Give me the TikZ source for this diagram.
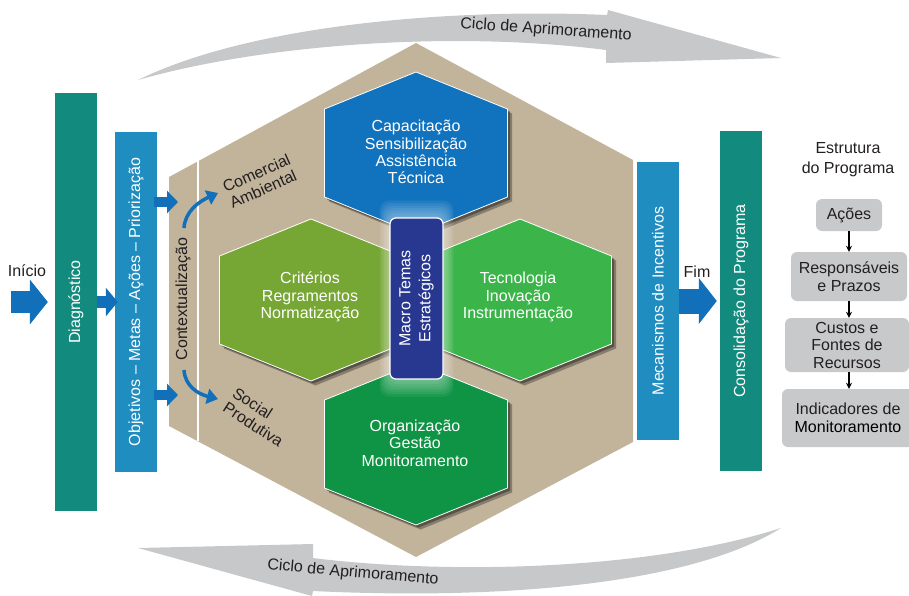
\documentclass[tikz,border=0pt]{standalone}
\usepackage{fontspec}
\setmainfont{Liberation Sans}
\usetikzlibrary{arrows.meta}

\definecolor{tanhex}{RGB}{194,180,155}
\definecolor{tealbar}{RGB}{18,138,126}
\definecolor{bluebar}{RGB}{31,141,192}
\definecolor{arrowblue}{RGB}{17,112,185}
\definecolor{hexblue}{RGB}{17,115,190}
\definecolor{hexolive}{RGB}{118,166,52}
\definecolor{hexgreen}{RGB}{59,181,74}
\definecolor{hexdark}{RGB}{14,148,68}
\definecolor{macroblue}{RGB}{40,56,145}
\definecolor{cyclegray}{RGB}{199,200,202}
\definecolor{boxgray}{RGB}{200,201,203}
\definecolor{darktext}{RGB}{35,31,32}

\newcommand{\hexat}[2]{(#1,#2-81) -- (#1+91.5,#2-44) -- (#1+91.5,#2+44) -- (#1,#2+81) -- (#1-91.5,#2+44) -- (#1-91.5,#2-44) -- cycle}

\begin{document}
\begin{tikzpicture}[x=1pt, y=-1pt, line join=round, >=Stealth, font=\fontsize{16}{17.3}\selectfont]
            \tikzset{bar/.style={rotate=90, minimum height=42, inner sep=0, text=white},
                     hextext/.style={align=center, text=white},
                     sidetext/.style={align=left, text=darktext},
                     blockarrow/.style={draw=arrowblue, line width=#1},
                     flowbox/.style={fill=boxgray, rounded corners=6, align=center, inner sep=0, text=darktext, font=\fontsize{16}{17.5}\selectfont},
                     flowarrow/.style={line width=1.1, -{Stealth[length=6, width=6]}}}
            \useasboundingbox (0,0) rectangle (909,595);
            % ciclo de aprimoramento
            \fill[cyclegray] (138,80) .. controls (250,25) and (450,8) .. (607,15) -- (608,10) -- (781,58) -- (606,63) -- (606,50) .. controls (450,30) and (260,45) .. (138,80) -- cycle;
            \fill[cyclegray] (781,528) .. controls (650,570) and (450,575) .. (313,558) -- (313,544) -- (138,548) -- (312,596) -- (313,591) .. controls (500,600) and (690,585) .. (781,528) -- cycle;
            \node[text=darktext, rotate=-4] (ciclotop) at (546,30) {Ciclo de Aprimoramento};
            \node[text=darktext, rotate=-5] (ciclobottom) at (353,573) {Ciclo de Aprimoramento};
            % hexagono maior
            \fill[tanhex] (416,43) -- (633,160) -- (633,442) -- (416,557) -- (169,426) -- (169,177) -- cycle;
            \draw[white, line width=2.5] (198,161.3) -- (198,441.4);
            \foreach \cx/\cy/\col in {416/153/hexblue, 311/300/hexolive, 520/300/hexgreen, 416/444/hexdark} {
                \fill[black, opacity=.3, shift={(4.5,4.5)}] \hexat{\cx}{\cy};
                \fill[black, opacity=.35, shift={(2.5,2.5)}] \hexat{\cx}{\cy};
                \filldraw[fill=\col, draw=white, line width=.8] \hexat{\cx}{\cy};
            }
            \node[hextext] (capacitacao) at (416,152) {Capacitação\\Sensibilização\\Assistência\\Técnica};
            \node[hextext] (criterios) at (310,297) {Critérios\\Regramentos\\Normatização};
            \node[hextext] (tecnologia) at (518,297) {Tecnologia\\Inovação\\Instrumentação};
            \node[hextext] (organizacao) at (415,443) {Organização\\Gestão\\Monitoramento};
            % macro temas
            \foreach \g in {1,...,7}
                \fill[white, opacity=.07, rounded corners=10] (390-1.5*\g,218-2.5*\g) rectangle (443+1.5*\g,379+2.5*\g);
            \node[rotate=90, fill=macroblue, draw=white, line width=1.2, rounded corners=6, minimum width=161, minimum height=53, inner sep=0, align=center, text=white, font=\fontsize{16}{20}\selectfont] (macro) at (416.5,298.5) {Macro Temas\\Estratégicos};
            % contexto
            \node[text=darktext, rotate=90] (contexto) at (183,299) {Contextualização};
            \node[sidetext, rotate=24] (comercial) at (260,181) {Comercial\\Ambiental};
            \node[sidetext, rotate=-33] (social) at (258,417) {Social\\Produtiva};
            \coordinate (ctxup) at (178,202);
            \coordinate (ctxdown) at (178,395);
            \draw[arrowblue, line width=3.5, -{Triangle[length=11, width=15]}] (184,228) .. controls (185,212) and (198,202) .. (218,193);
            \draw[arrowblue, line width=3.5, -{Triangle[length=11, width=15]}] (184,370) .. controls (185,386) and (198,394) .. (218,399);
            % barras
            \node[bar, fill=tealbar, minimum width=418] (diag) at (76,302) {Diagnóstico};
            \node[bar, fill=bluebar, minimum width=340] (obj) at (136,302) {Objetivos – Metas – Ações – Priorização};
            \node[bar, fill=bluebar, minimum width=278] (mec) at (658,301) {Mecanismos de Incentivos};
            \node[bar, fill=tealbar, minimum width=340] (cons) at (741,301) {Consolidação do Programa};
            \node[text=darktext] (inicio) at (27,271) {Início};
            \node[text=darktext] (fim) at (697,272) {Fim};
            \coordinate (inicioarrow) at (11,302);
            \draw[blockarrow=22, -{Triangle[length=18, width=44]}] (inicioarrow) -- ([xshift=-7pt]diag.north);
            \draw[blockarrow=12, -{Triangle[length=12, width=28]}] (diag.south) -- ([xshift=3pt]obj.north);
            \draw[blockarrow=10, -{Triangle[length=11, width=22]}] ([yshift=100pt,xshift=-3pt]obj.south) -- (ctxup);
            \draw[blockarrow=10, -{Triangle[length=11, width=22]}] ([yshift=-93pt,xshift=-3pt]obj.south) -- (ctxdown);
            \draw[blockarrow=25, -{Triangle[length=18, width=45]}] (mec.south) -- ([xshift=-3pt]cons.north);
            % estrutura do programa
            \node[text=darktext, align=center, font=\fontsize{16}{20}\selectfont] (estrutura) at (848,160) {Estrutura\\do Programa};
            \node[flowbox, minimum width=66, minimum height=32] (acoes) at (849,215) {Ações};
            \node[flowbox, minimum width=116, minimum height=49] (resp) at (849,276.5) {Responsáveis\\e Prazos};
            \node[flowbox, minimum width=124, minimum height=54] (custos) at (847,345) {Custos e\\Fontes de\\Recursos};
            \node[flowbox, minimum width=132, minimum height=58] (indic) at (848,418) {Indicadores de\\\textcolor{black}{Monitoramento}};
            \draw[flowarrow] (acoes.south) -- (resp.north);
            \draw[flowarrow] (resp.south) -- (resp.south |- custos.north);
            \draw[flowarrow] (resp.south |- custos.south) -- (resp.south |- indic.north);
        \end{tikzpicture}
\end{document}
